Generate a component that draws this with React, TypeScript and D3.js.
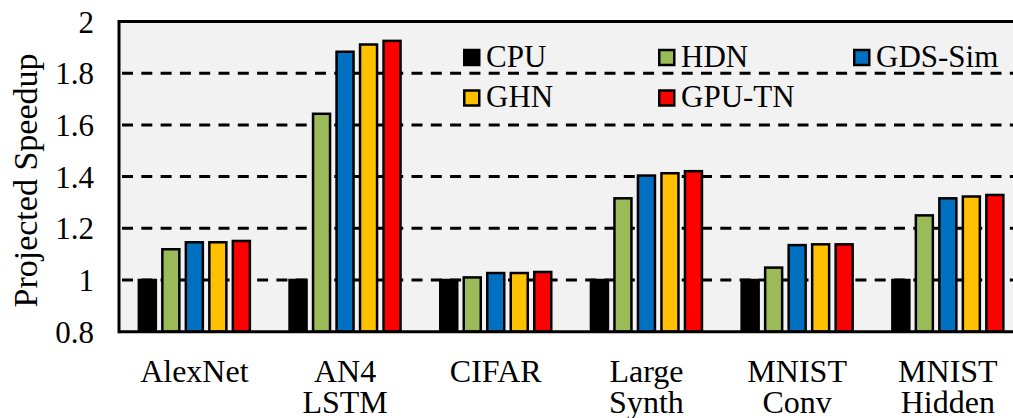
import React from "react";
import * as d3 from "d3";

const categories: string[][] = [
  ["AlexNet"],
  ["AN4", "LSTM"],
  ["CIFAR"],
  ["Large", "Synth"],
  ["MNIST", "Conv"],
  ["MNIST", "Hidden"],
];
const seriesNames = ["CPU", "HDN", "GDS-Sim", "GHN", "GPU-TN"];
const seriesColors = ["#000000", "#9bbb59", "#0070c0", "#ffc000", "#ff0000"];
const cpu = [1.0, 1.0, 1.0, 1.0, 1.0, 1.0];
const hdn = [1.119, 1.643, 1.01, 1.316, 1.048, 1.25];
const gdsSim = [1.146, 1.883, 1.027, 1.404, 1.135, 1.316];
const ghn = [1.146, 1.911, 1.027, 1.413, 1.138, 1.323];
const gpuTn = [1.151, 1.925, 1.031, 1.421, 1.138, 1.329];
const yTicks = [0.8, 1, 1.2, 1.4, 1.6, 1.8, 2];
const gridTicks = [1, 1.2, 1.4, 1.6, 1.8];

const seriesValues = [cpu, hdn, gdsSim, ghn, gpuTn];
const FONT = '"Liberation Serif"';

export default function App() {
  const W = 1013;
  const H = 418;
  const left = 119;
  const right = 1023.2;
  const top = 21.5;
  const bottom = 331.7;

  const catKeys = categories.map((c) => c.join(" "));
  const x0 = d3.scaleBand<string>().domain(catKeys).range([left, right]).padding(0);
  const step = 23.5;
  const bw = 17;
  const groupW = step * (seriesNames.length - (1 - bw / step));
  const x1 = d3
    .scaleBand<string>()
    .domain(seriesNames)
    .range([0, groupW])
    .paddingInner(1 - bw / step)
    .paddingOuter(0);
  const groupOffset = (x0.bandwidth() - groupW) / 2;
  const y = d3.scaleLinear().domain([0.8, 2]).range([bottom, top]);

  const legendCols = [463, 658, 853];
  const legendRows = [66.5, 107];
  const textStyle = { fontFamily: FONT };

  return (
    <svg
      width={W}
      height={H}
      style={{ position: "absolute", left: 0, top: 0, background: "#fff" }}
    >
      <rect x={left} y={top} width={right - left} height={bottom - top} fill="#f2f2f2" />
      {gridTicks.map((t) => (
        <line
          key={t}
          x1={left}
          x2={right}
          y1={y(t)}
          y2={y(t)}
          stroke="#000"
          strokeWidth={3}
          strokeDasharray="11,8.3"
          strokeDashoffset={-3}
        />
      ))}
      {catKeys.map((k, ci) => (
        <g key={k} transform={`translate(${(x0(k) as number) + groupOffset},0)`}>
          {seriesNames.map((s, si) => {
            const v = seriesValues[si][ci];
            return (
              <rect
                key={s}
                x={x1(s) as number}
                y={y(v)}
                width={x1.bandwidth()}
                height={bottom - y(v)}
                fill={seriesColors[si]}
                stroke="#000"
                strokeWidth={2.5}
              />
            );
          })}
        </g>
      ))}
      {/* frame */}
      <line x1={left} x2={right} y1={top} y2={top} stroke="#000" strokeWidth={3} />
      <line x1={left} x2={right} y1={bottom} y2={bottom} stroke="#000" strokeWidth={3} />
      <line x1={left} x2={left} y1={top - 1.5} y2={bottom + 1.5} stroke="#000" strokeWidth={3} />
      <line x1={right} x2={right} y1={top - 1.5} y2={bottom + 1.5} stroke="#000" strokeWidth={3} />
      {/* y ticks */}
      {yTicks.map((t) => (
        <text key={t} x={94} y={y(t) + 11} textAnchor="end" fontSize={31} fill="#000" style={textStyle}>
          {d3.format("")(t)}
        </text>
      ))}
      <text
        transform={`translate(37,180.5) rotate(-90)`}
        textAnchor="middle"
        fontSize={34}
        fill="#000"
        style={textStyle}
      >
        Projected Speedup
      </text>
      {/* x labels */}
      {categories.map((lines, ci) =>
        lines.map((ln, li) => (
          <text
            key={`${ci}-${li}`}
            x={(x0(catKeys[ci]) as number) + x0.bandwidth() / 2}
            y={381.7 + li * 31.6}
            textAnchor="middle"
            fontSize={32}
            fill="#000"
            style={textStyle}
          >
            {ln}
          </text>
        ))
      )}
      {/* legend */}
      {seriesNames.map((s, si) => {
        const col = si % 3;
        const row = Math.floor(si / 3);
        const lx = legendCols[col];
        const ly = legendRows[row];
        return (
          <g key={s}>
            <rect
              x={lx + 1.25}
              y={ly - 16.5}
              width={15}
              height={15}
              fill={seriesColors[si]}
              stroke="#000"
              strokeWidth={2.5}
            />
            <text x={lx + 23} y={ly} fontSize={31} fill="#000" style={textStyle}>
              {s}
            </text>
          </g>
        );
      })}
    </svg>
  );
}
